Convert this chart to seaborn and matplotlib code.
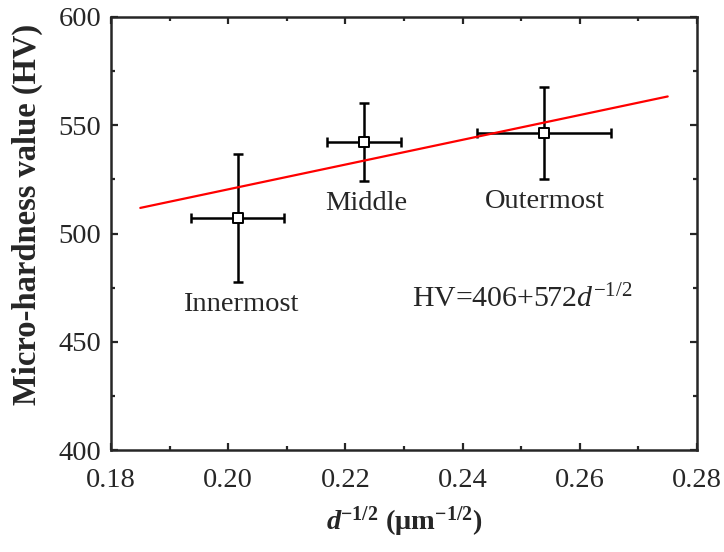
import matplotlib
matplotlib.use("Agg")
import matplotlib.pyplot as plt
import seaborn as sns
import pandas as pd
import numpy as np
from matplotlib.ticker import MultipleLocator

# ---- data ----
regions = ["Innermost", "Middle", "Outermost"]
d_inv_sqrt = [0.2016, 0.2232, 0.2539]
hv = [507.0, 542.4, 546.3]
x_err = [0.0079, 0.0063, 0.0114]
y_err = [29.6, 18.0, 21.2]
fit_intercept = 406
fit_slope = 572
fit_x_range = [0.185, 0.275]
x_ticks = [0.18, 0.20, 0.22, 0.24, 0.26, 0.28]
y_ticks = [400, 450, 500, 550, 600]

sns.set_style("ticks")
plt.rcParams["font.family"] = ["Liberation Serif", "DejaVu Serif"]
plt.rcParams["mathtext.fontset"] = "custom"
plt.rcParams["mathtext.rm"] = "Liberation Serif"
plt.rcParams["mathtext.it"] = "Liberation Serif:italic"
plt.rcParams["mathtext.bf"] = "Liberation Serif:bold"
plt.rcParams["mathtext.bfit"] = "Liberation Serif:italic:bold"

fig = plt.figure(figsize=(7.24, 5.52), dpi=100)
ax = fig.add_axes([111/724, 1-450/552, (697-111)/724, (450-17)/552])

df = pd.DataFrame({"x": d_inv_sqrt, "y": hv, "region": regions})
fit_df = pd.DataFrame({"x": fit_x_range,
                       "y": [fit_intercept + fit_slope * v for v in fit_x_range]})

ax.errorbar(df["x"], df["y"], xerr=x_err, yerr=y_err, fmt="none",
            ecolor="black", elinewidth=1.8, capsize=3.6, capthick=1.8, zorder=2)
sns.lineplot(data=fit_df, x="x", y="y", color="red", linewidth=1.6, ax=ax, zorder=3)
sns.scatterplot(data=df, x="x", y="y", marker="s", s=55, color="white",
                edgecolor="black", linewidth=1.4, ax=ax, zorder=4)

# labels near points
label_pos = [(0.2021, 467.0), (0.2236, 514.0), (0.2541, 515.0)]
for name, (lx, ly) in zip(regions, label_pos):
    ax.text(lx, ly, name, ha="center", va="center", fontsize=20.5)

ax.text(0.2314, 469.5, r"HV=406+572$\mathit{d}^{\mathrm{-1/2}}$", ha="left", va="center",
        fontsize=21.5)

ax.set_xlim(0.18, 0.28)
ax.set_ylim(400, 600)
ax.set_xticks(x_ticks)
ax.set_yticks(y_ticks)
ax.set_xticklabels([f"{t:.2f}" for t in x_ticks])
ax.set_yticklabels([str(t) for t in y_ticks])
ax.xaxis.set_minor_locator(MultipleLocator(0.01))
ax.yaxis.set_minor_locator(MultipleLocator(25))
ax.tick_params(which="both", direction="in", top=True, right=True, width=1.6)
ax.tick_params(which="major", length=5, labelsize=20.5)
ax.tick_params(axis="x", which="major", pad=13)
ax.tick_params(axis="y", which="major", pad=7)
ax.tick_params(which="minor", length=3)
for s in ax.spines.values():
    s.set_linewidth(1.8)
    s.set_visible(True)

ax.set_xlabel(r"$\mathbfit{d}^{\mathbf{-1/2}}$ (μm$^{\mathbf{-1/2}}$)", fontsize=20.5,
              fontweight="bold", labelpad=8)
ax.set_ylabel("Micro-hardness value (HV)", fontsize=23.5, fontweight="bold")
ax.yaxis.label.set_horizontalalignment("center")
ax.yaxis.label.set_verticalalignment("center")
ax.yaxis.set_label_coords(-0.143, 0.543)

fig.savefig("out.png", dpi=100)
